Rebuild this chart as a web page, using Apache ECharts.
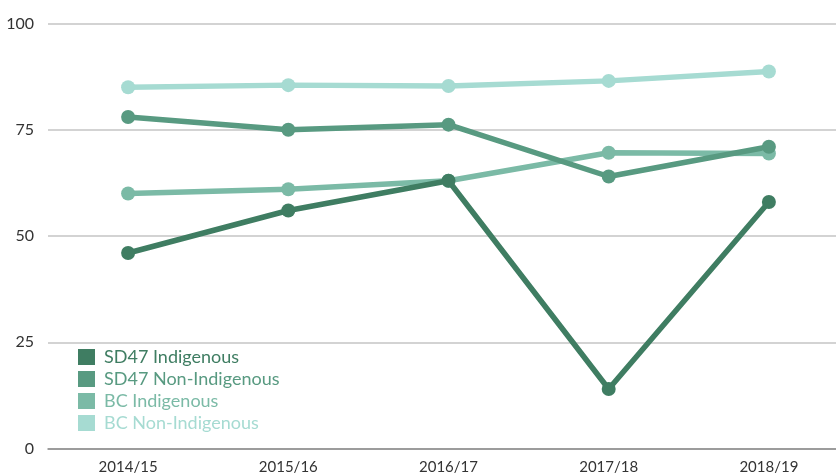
<!DOCTYPE html>
<html><head><meta charset="utf-8">
<script src="https://cdn.jsdelivr.net/npm/echarts@6/dist/echarts.min.js"></script>
<style>html,body{margin:0;padding:0;background:#fff;overflow:hidden}#c{width:850px;height:476px}</style>
</head><body><div id="c"></div>
<script>
var categories = ['2014/15', '2015/16', '2016/17', '2017/18', '2018/19'];
var seriesNames = ['SD47 Indigenous', 'SD47 Non-Indigenous', 'BC Indigenous', 'BC Non-Indigenous'];
var sd47Indigenous = [46, 56, 63, 14, 58];
var sd47NonIndigenous = [78, 75, 76.2, 64, 71];
var bcIndigenous = [60, 61, 63, 69.6, 69.4];
var bcNonIndigenous = [85, 85.5, 85.3, 86.5, 88.7];
var yTicks = [0, 25, 50, 75, 100];
var colors = ['#3f7d62', '#589a81', '#7bbaa6', '#a6dbd2'];

var values = [sd47Indigenous, sd47NonIndigenous, bcIndigenous, bcNonIndigenous];
var chart = echarts.init(document.getElementById('c'));
var font = 'Lato, "Open Sans", sans-serif';
chart.setOption({
  animation: false,
  grid: {left: 48, top: 23.5, width: 801, height: 425, containLabel: false},
  legend: {
    orient: 'vertical', left: 73, top: 343,
    icon: 'rect', itemWidth: 17, itemHeight: 16, itemGap: 4,
    data: seriesNames.map(function (n, i) {
      return {name: n, textStyle: {color: colors[i], fontSize: 18, fontFamily: font}};
    }),
    textStyle: {fontSize: 18, fontFamily: font, padding: [0, 0, 0, 4]}
  },
  xAxis: {
    type: 'category', data: categories, boundaryGap: true,
    axisLine: {lineStyle: {color: '#8a8a8a', width: 1.5}},
    axisTick: {show: false},
    axisLabel: {color: '#333', fontSize: 15, fontFamily: font, margin: 11}
  },
  yAxis: {
    type: 'value', min: 0, max: 100, interval: 25,
    axisLine: {show: false}, axisTick: {show: false},
    splitLine: {lineStyle: {color: '#c4c4c4', width: 1.5}},
    axisLabel: {color: '#333', fontSize: 16, fontFamily: font, margin: 14}
  },
  series: seriesNames.map(function (n, i) {
    return {
      name: n, type: 'line', data: values[i], z: 10 - i,
      symbol: 'circle', symbolSize: 14,
      lineStyle: {color: colors[i], width: 5.5},
      itemStyle: {color: colors[i]}
    };
  }).reverse()
});
</script></body></html>
